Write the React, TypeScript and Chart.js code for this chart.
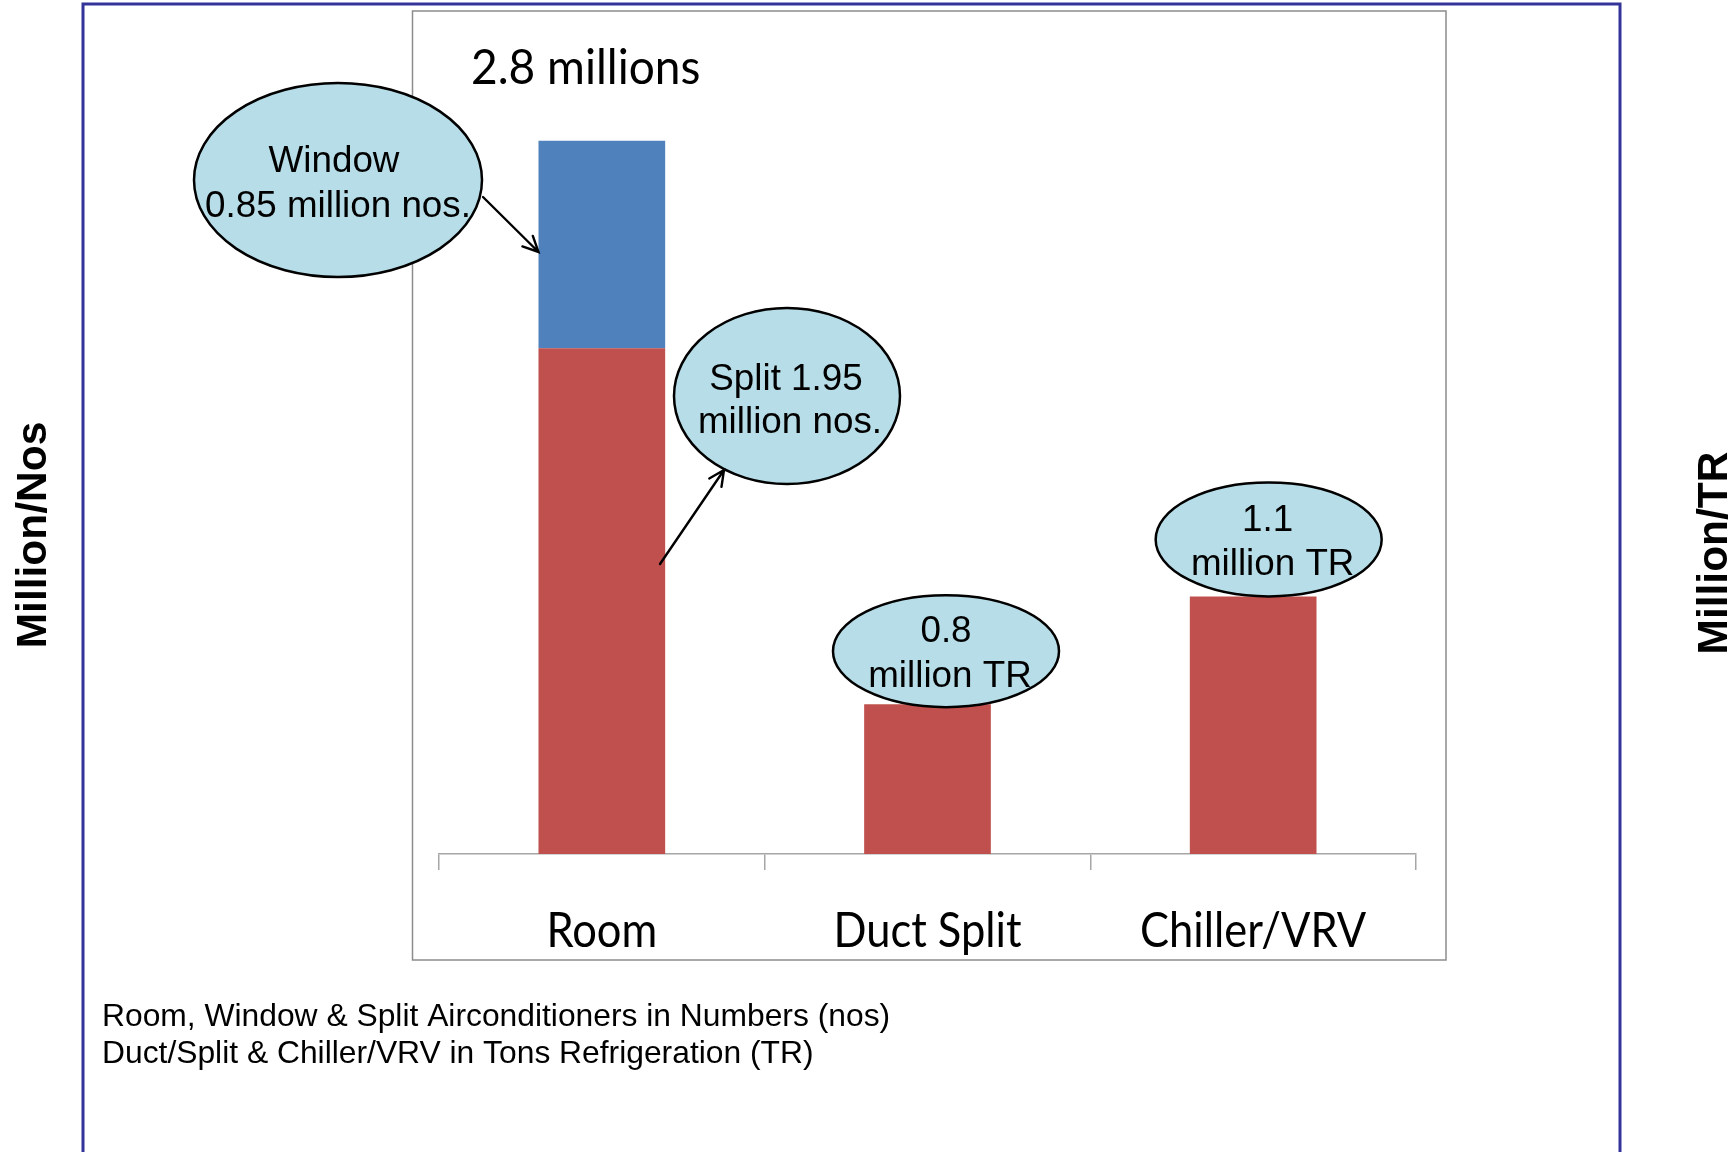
import React, { useEffect, useRef } from "react";
import { Chart, registerables } from "chart.js";

Chart.register(...registerables);

// ---- data ----
const categories = ["Room", "Duct Split", "Chiller/VRV"];
const splitNos = [1.95, null, null];
const windowNos = [0.8, null, null];
const tonsTR = [null, 0.64, 1.1];

const leftAxisTitle = "Million/Nos";
const rightAxisTitle = "Million/TR";
const totalLabel = "2.8 millions";
const noteLines = [
  "Room, Window & Split Airconditioners in Numbers (nos)",
  "Duct/Split & Chiller/VRV in Tons Refrigeration (TR)",
];
const windowCallout = ["Window", "0.85 million nos."];
const splitCallout = ["Split 1.95", "million nos."];
const ductCallout = ["0.8", "million TR"];
const chillerCallout = ["1.1", "million TR"];

// ---- styles ----
const RED = "#C0504D";
const BLUE = "#4F81BD";
const AXIS = "#A6A6A6";
const BUBBLE = "#B7DEE8";
const FRAME = "#333399";
const CAL = '"Lato", "Open Sans", sans-serif';
const ARIAL = '"Liberation Sans", Arial, sans-serif';

function drawEllipse(ctx: CanvasRenderingContext2D, cx: number, cy: number, rx: number, ry: number) {
  ctx.save();
  ctx.beginPath();
  ctx.ellipse(cx, cy, rx, ry, 0, 0, Math.PI * 2);
  ctx.fillStyle = BUBBLE;
  ctx.fill();
  ctx.lineWidth = 2.5;
  ctx.strokeStyle = "#000";
  ctx.stroke();
  ctx.restore();
}

function drawArrow(ctx: CanvasRenderingContext2D, x1: number, y1: number, x2: number, y2: number) {
  const ang = Math.atan2(y2 - y1, x2 - x1);
  const len = 17;
  const spread = 0.45;
  ctx.save();
  ctx.strokeStyle = "#000";
  ctx.lineWidth = 2.4;
  ctx.lineCap = "round";
  ctx.beginPath();
  ctx.moveTo(x1, y1);
  ctx.lineTo(x2, y2);
  ctx.moveTo(x2 - len * Math.cos(ang - spread), y2 - len * Math.sin(ang - spread));
  ctx.lineTo(x2, y2);
  ctx.lineTo(x2 - len * Math.cos(ang + spread), y2 - len * Math.sin(ang + spread));
  ctx.stroke();
  ctx.restore();
}

function textLines(ctx: CanvasRenderingContext2D, lines: string[], xs: number[], ys: number[]) {
  ctx.save();
  ctx.font = `36.8px ${ARIAL}`;
  ctx.fillStyle = "#000";
  ctx.textAlign = "center";
  ctx.textBaseline = "alphabetic";
  lines.forEach((l, i) => ctx.fillText(l, xs[i], ys[i]));
  ctx.restore();
}

function condensed(ctx: CanvasRenderingContext2D, text: string, x: number, y: number, align: CanvasTextAlign, hs: number) {
  ctx.save();
  ctx.translate(x, y);
  ctx.scale(hs, 1);
  ctx.textAlign = align;
  ctx.fillText(text, 0, 0);
  ctx.restore();
}

const overlay = {
  id: "overlay",
  beforeDraw(chart: any) {
    const ctx: CanvasRenderingContext2D = chart.ctx;
    ctx.save();
    ctx.fillStyle = "#fff";
    ctx.fillRect(0, 0, chart.width, chart.height);
    ctx.strokeStyle = FRAME;
    ctx.lineWidth = 3;
    ctx.beginPath();
    ctx.moveTo(83, 1160);
    ctx.lineTo(83, 4);
    ctx.lineTo(1620, 4);
    ctx.lineTo(1620, 1160);
    ctx.stroke();
    ctx.strokeStyle = "#8C8C8C";
    ctx.lineWidth = 1.5;
    ctx.strokeRect(412.5, 11, 1033.5, 949);
    ctx.restore();
  },
  afterDatasetsDraw(chart: any) {
    const ctx: CanvasRenderingContext2D = chart.ctx;
    const x = chart.scales.x;

    // category labels (Calibri-like, condensed)
    ctx.save();
    ctx.font = `48px ${CAL}`;
    ctx.fillStyle = "#000";
    const hs = 188 / ctx.measureText("Duct Split").width;
    categories.forEach((c, i) => condensed(ctx, c, x.getPixelForValue(i), 947, "center", hs));
    ctx.font = `48px ${CAL}`;
    condensed(ctx, totalLabel, 471, 84, "left", hs * 1.06);
    ctx.restore();

    // window callout
    drawEllipse(ctx, 338, 180, 144, 97);
    textLines(ctx, windowCallout, [334, 338], [172, 217]);
    const roomTop = chart.getDatasetMeta(1).data[0];
    drawArrow(ctx, 483, 197, roomTop.x - roomTop.width / 2, 252);

    // split callout
    drawEllipse(ctx, 787, 396, 113, 88);
    textLines(ctx, splitCallout, [786, 790], [390, 433]);
    drawArrow(ctx, 660, 564, 724, 470);

    // TR callouts anchored on bar tops
    const trMeta = chart.getDatasetMeta(2);
    const d = trMeta.data[1];
    const c = trMeta.data[2];
    drawEllipse(ctx, d.x + 18.5, d.y + 3 - 56, 113, 56);
    textLines(ctx, ductCallout, [d.x + 18.5, d.x + 22.5], [d.y - 62, d.y - 17]);
    drawEllipse(ctx, c.x + 15.5, c.y - 57, 113, 57);
    textLines(ctx, chillerCallout, [c.x + 14.5, c.x + 19.5], [c.y - 65, c.y - 21]);

    // axis titles
    ctx.save();
    ctx.font = `bold 42.5px ${ARIAL}`;
    ctx.fillStyle = "#000";
    ctx.textAlign = "center";
    ctx.textBaseline = "middle";
    ctx.translate(34.5, 535);
    ctx.rotate(-Math.PI / 2);
    ctx.fillText(leftAxisTitle, 0, 0);
    ctx.restore();
    ctx.save();
    ctx.font = `bold 42.5px ${ARIAL}`;
    ctx.fillStyle = "#000";
    ctx.textAlign = "center";
    ctx.textBaseline = "middle";
    ctx.translate(1715, 553);
    ctx.rotate(-Math.PI / 2);
    ctx.fillText(rightAxisTitle, 0, 0);
    ctx.restore();

    // notes
    ctx.save();
    ctx.font = `31.8px ${ARIAL}`;
    ctx.fillStyle = "#000";
    ctx.textAlign = "left";
    ctx.fillText(noteLines[0], 102, 1026);
    ctx.fillText(noteLines[1], 102, 1063);
    ctx.restore();
  },
};

export default function App() {
  const ref = useRef<HTMLCanvasElement>(null);
  useEffect(() => {
    const canvas = ref.current!;
    const chart = new Chart(canvas, {
      type: "bar",
      data: {
        labels: categories,
        datasets: [
          { label: "Split", data: splitNos, backgroundColor: RED, yAxisID: "y", barPercentage: 0.389, categoryPercentage: 1 },
          { label: "Window", data: windowNos, backgroundColor: BLUE, yAxisID: "y", barPercentage: 0.389, categoryPercentage: 1 },
          { label: "TR", data: tonsTR, backgroundColor: RED, yAxisID: "y2", barPercentage: 0.389, categoryPercentage: 1 },
        ],
      },
      options: {
        responsive: false,
        animation: false,
        devicePixelRatio: 1,
        layout: { padding: { left: 439, right: 317, top: 11, bottom: 282 } },
        plugins: { legend: { display: false }, tooltip: { enabled: false }, title: { display: false } },
        scales: {
          x: {
            stacked: true,
            ticks: { display: false },
            grid: { drawOnChartArea: false, drawTicks: true, tickLength: 16, color: AXIS, lineWidth: 1.5 },
            border: { display: true, color: AXIS, width: 1.5 },
          },
          y: { stacked: true, display: false, min: 0, max: 3.25 },
          y2: { stacked: true, display: false, position: "right", min: 0, max: 3.6 },
        },
      },
      plugins: [overlay],
    } as any);
    if ((document as any).fonts && (document as any).fonts.load) {
      Promise.all([
        (document as any).fonts.load(`48px Lato`),
        (document as any).fonts.load(`36px "Liberation Sans"`),
        (document as any).fonts.load(`bold 42px "Liberation Sans"`),
      ]).then(() => chart.draw()).catch(() => {});
    }
    return () => chart.destroy();
  }, []);
  return (
    <canvas
      ref={ref}
      width={1733}
      height={1152}
      style={{ position: "fixed", left: 0, top: 0, display: "block", width: 1733, height: 1152 }}
    />
  );
}
